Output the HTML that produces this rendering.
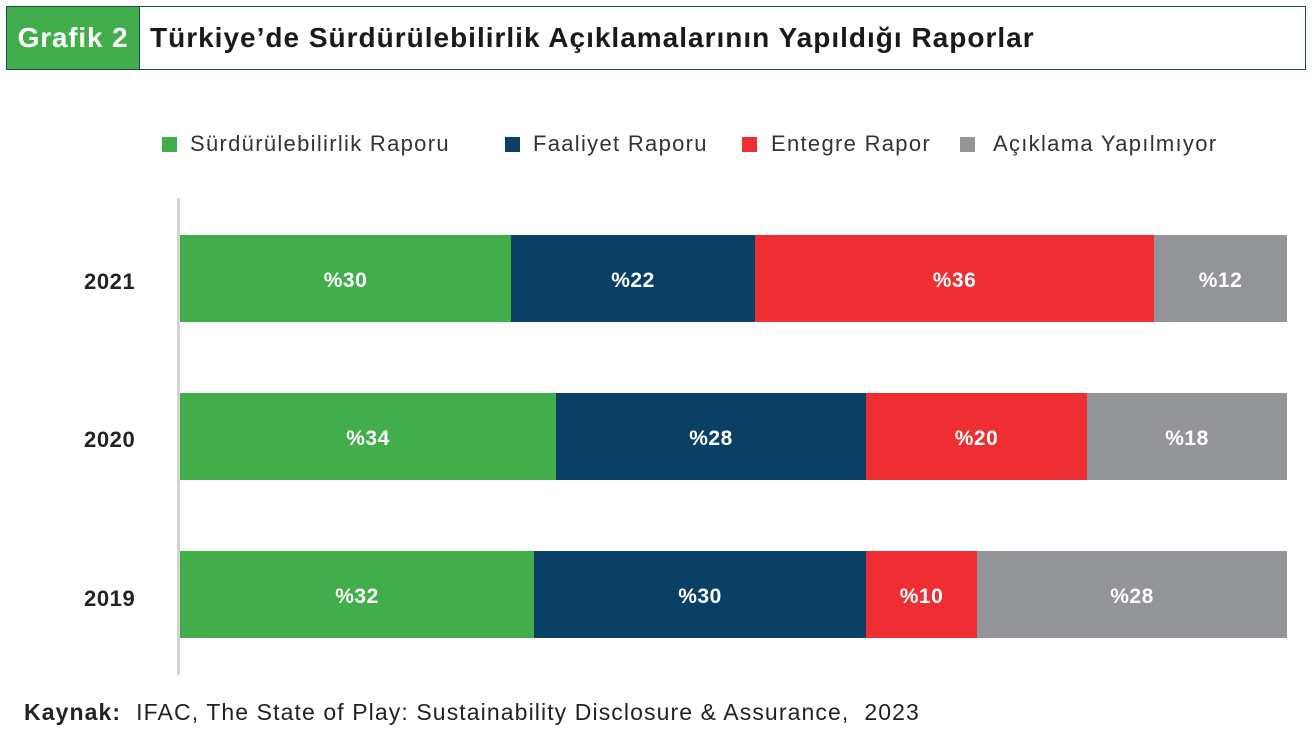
<!DOCTYPE html><html><head><style>
body{margin:0;width:1312px;height:738px;background:#fff;font-family:"Liberation Sans",sans-serif;position:relative;overflow:hidden}
.a{position:absolute}
.seg{position:absolute;height:87px;color:#fff;font-weight:bold;font-size:21px;display:flex;align-items:center;justify-content:center;padding-top:5px;box-sizing:border-box;letter-spacing:0.5px}
.g{background:#41ae4b}.n{background:#0b4066}.r{background:#ee2e33}.y{background:#949599}
.yr{position:absolute;left:84px;font-weight:bold;font-size:22px;color:#222;letter-spacing:0.6px}
.sq{position:absolute;width:15px;height:15px;top:137px}
.lt{position:absolute;top:131px;font-size:22px;color:#333;letter-spacing:1.3px}
</style></head><body>
<div class="a" style="left:6px;top:6px;width:1298px;height:62px;border:1px solid #1f4b4d"></div>
<div class="a" style="left:7px;top:7px;width:132px;height:62px;background:#41ae4b;border-right:1px solid #1f4b4d;color:#fff;font-weight:bold;font-size:28px;line-height:62px;text-align:center;letter-spacing:0.8px">Grafik 2</div>
<div class="a" style="left:150px;top:7px;line-height:62px;font-size:28px;font-weight:bold;color:#1a1a1a;letter-spacing:1px">Türkiye’de Sürdürülebilirlik Açıklamalarının Yapıldığı Raporlar</div>
<div class="sq g" style="left:162px"></div><div class="lt" style="left:190px">Sürdürülebilirlik Raporu</div>
<div class="sq n" style="left:505px"></div><div class="lt" style="left:533px">Faaliyet Raporu</div>
<div class="sq r" style="left:742px"></div><div class="lt" style="left:771px">Entegre Rapor</div>
<div class="sq y" style="left:960px"></div><div class="lt" style="left:993px">Açıklama Yapılmıyor</div>
<div class="a" style="left:177px;top:198px;width:3px;height:477px;background:#d4d4d4"></div>
<div class="yr" style="top:269px">2021</div>
<div class="yr" style="top:427px">2020</div>
<div class="yr" style="top:586px">2019</div>
<div class="seg g" style="top:235px;left:180px;width:331px">%30</div>
<div class="seg n" style="top:235px;left:511px;width:244px">%22</div>
<div class="seg r" style="top:235px;left:755px;width:399px">%36</div>
<div class="seg y" style="top:235px;left:1154px;width:133px">%12</div>
<div class="seg g" style="top:393px;left:180px;width:376px">%34</div>
<div class="seg n" style="top:393px;left:556px;width:310px">%28</div>
<div class="seg r" style="top:393px;left:866px;width:221px">%20</div>
<div class="seg y" style="top:393px;left:1087px;width:200px">%18</div>
<div class="seg g" style="top:551px;left:180px;width:354px">%32</div>
<div class="seg n" style="top:551px;left:534px;width:332px">%30</div>
<div class="seg r" style="top:551px;left:866px;width:111px">%10</div>
<div class="seg y" style="top:551px;left:977px;width:310px">%28</div>
<div class="a" style="left:24px;top:699px;font-size:23px;color:#222;letter-spacing:1.1px"><b>Kaynak:</b>&nbsp; IFAC, The State of Play: Sustainability Disclosure &amp; Assurance,&nbsp; 2023</div>
</body></html>
